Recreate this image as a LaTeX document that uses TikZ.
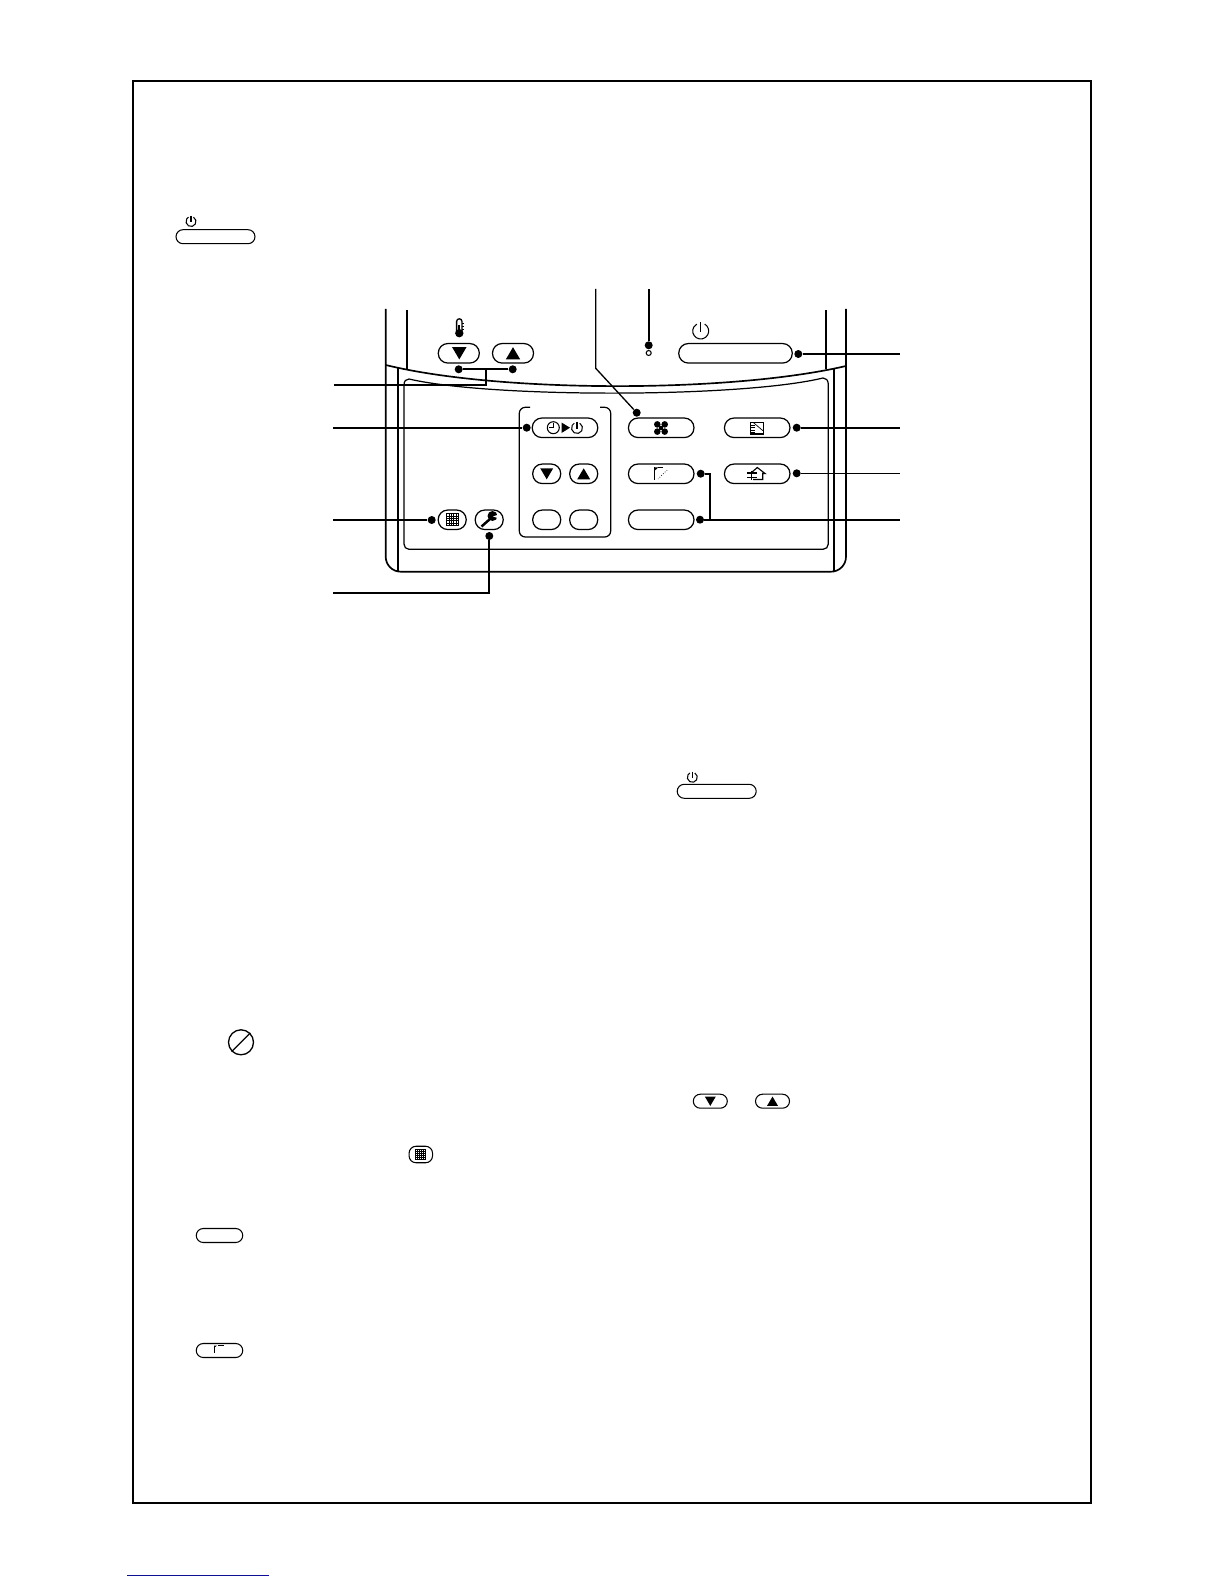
\documentclass[tikz,border=0pt]{standalone}
\usepackage{xcolor}
\usetikzlibrary{arrows}
\definecolor{linkblue}{RGB}{15,15,150}

\tikzset{
  caseline/.style={line width=0.95pt},
  leader/.style={line width=1.05pt},
  thinleader/.style={line width=0.75pt},
  btn/.style={draw, line width=0.7pt, inner sep=0pt, rounded corners=0.19cm, minimum height=0.39cm},
  wide/.style={btn, minimum width=1.31cm},
  short/.style={btn, minimum width=0.56cm},
  temp/.style={btn, minimum width=0.82cm},
  power/.style={btn, minimum width=2.27cm},
  tiny/.style={draw, line width=0.6pt, inner sep=0pt, rounded corners=0.14cm, minimum height=0.28cm},
  dot/.style={circle, fill=black, inner sep=0pt, minimum size=0.16cm}
}

% icons, all at pixel coordinates
\newcommand{\triDown}[3]{\fill (#1-#3,#2-#3*0.85) -- (#1+#3,#2-#3*0.85) -- (#1,#2+#3*0.85) -- cycle;}
\newcommand{\triUp}[3]{\fill (#1-#3,#2+#3*0.85) -- (#1+#3,#2+#3*0.85) -- (#1,#2-#3*0.85) -- cycle;}
\newcommand{\powerSign}[3]{%
  \draw[line width=0.6pt] (#1,#2) ++(-60:#3) arc[start angle=-60, end angle=240, radius=#3];
  \draw[line width=0.6pt] (#1,#2-#3*1.15) -- (#1,#2+#3*0.1);}
\newcommand{\gridSign}[3]{%
  \foreach \k in {-0.6,-0.2,0.2,0.6} {
    \draw[line width=0.25pt] (#1+#3*\k,#2-#3) -- (#1+#3*\k,#2+#3);
    \draw[line width=0.25pt] (#1-#3,#2+#3*\k) -- (#1+#3,#2+#3*\k);
  }
  \draw[line width=0.5pt] (#1-#3,#2-#3) rectangle (#1+#3,#2+#3);}

\begin{document}
\begin{tikzpicture}[x=0.02cm, y=-0.02cm]
  \useasboundingbox (0,0) rectangle (1224,1584);

  % page frame and link line
  \draw[line width=1.35pt] (133.3,81) rectangle (1091,1502.7);
  \draw[line width=0.8pt, color=linkblue] (127.3,1575.3) -- (269,1575.3);

  % small button in the first paragraph
  \node[tiny, minimum width=1.58cm] (btnPowerTop) at (215.5,236.7) {};
  \powerSign{191}{221.5}{5}

  % remote control case
  \draw[caseline, rounded corners=0.3cm] (385.7,309) -- (385.7,571.7) -- (846,571.7) -- (846,309);
  \draw[caseline] (406.7,310) -- (406.7,369);
  \draw[caseline] (397.7,367) -- (397.7,571.7);
  \draw[caseline] (825.7,310) -- (825.7,369);
  \draw[caseline] (834,368) -- (834,571.7);
  \draw[caseline] (385.7,365) .. controls (500,393) and (730,393) .. (846,366);

  % panel under the lid
  \draw[line width=0.7pt] (404,385) .. controls (404,381) and (406,379) .. (409,379)
    .. controls (490,398) and (740,398) .. (823,378)
    .. controls (826,378) and (828,380) .. (828.3,384)
    -- (828.3,544) .. controls (828.3,547) and (826,549.3) .. (823,549.3)
    -- (409,549.3) .. controls (406,549.3) and (404,547) .. (404,544) -- cycle;

  % timer group, open at the top
  \draw[line width=0.7pt, rounded corners=0.12cm] (530,407.3) -- (519.3,407.3) -- (519.3,537) -- (610.7,537) -- (610.7,407.3) -- (600,407.3);

  % buttons
  \node[temp] (btnTempDown) at (458.8,353.3) {};
  \node[temp] (btnTempUp) at (513,353.3) {};
  \node[power] (btnPower) at (735.5,353.3) {};
  \node[wide] (btnTimer) at (565,427.8) {};
  \node[short] (btnTimerDown) at (546.7,473.8) {};
  \node[short] (btnTimerUp) at (583.7,473.8) {};
  \node[short] (btnBlankA) at (546.7,519.8) {};
  \node[short] (btnBlankB) at (583.7,519.8) {};
  \node[short] (btnGrid) at (452.2,519.8) {};
  \node[short] (btnWrench) at (489.2,519.8) {};
  \node[wide] (btnFan) at (661.2,427.8) {};
  \node[wide] (btnFilter) at (757.2,427.8) {};
  \node[wide] (btnLouver) at (661.2,473.8) {};
  \node[wide] (btnHouse) at (757.2,473.8) {};
  \node[wide] (btnBlank) at (661.2,519.8) {};

  % icons on the buttons
  \triDown{459.3}{353.3}{7.2}
  \triUp{513}{353.3}{7.2}
  \triDown{546.7}{473.8}{6.5}
  \triUp{583.7}{473.8}{6.5}
  \powerSign{700.7}{331}{8}
  \powerSign{577}{428}{5.5}
  \draw[line width=0.6pt] (553.3,427.7) circle (6);
  \draw[line width=0.6pt] (553.3,423) -- (553.3,427.7) -- (549,427.7);
  \fill (561.5,422.5) -- (570,427.7) -- (561.5,433) -- cycle;
  \gridSign{452.4}{519.5}{6}

  % thermometer
  \draw[line width=0.75pt] (456.6,332) -- (456.6,321.5) arc[start angle=180, end angle=360, radius=2.7] -- (462,332);
  \fill (459.3,333.2) circle (4.2);
  \fill (458.2,325) rectangle (460.3,332);
  \foreach \yy in {323,326,329} {
    \draw[line width=0.3pt] (462,\yy) -- (463.8,\yy);
  }

  % wrench
  \draw[line width=1.4pt] (481.5,526.5) -- (490,519);
  \fill (492.5,516) circle (5);
  \fill[white] (493,516.5) -- (499,514.4) -- (499,518.5) -- cycle;

  % fan
  \foreach \sx in {-1,1} {
    \foreach \sy in {-1,1} {
      \fill (661+\sx*3.7,428+\sy*3.6) circle (3.3);
    }
  }
  \fill (659,426) rectangle (663,430);

  % filter
  \draw[line width=0.6pt] (750.7,422.3) rectangle (763.3,434);
  \draw[line width=0.4pt] (753,422.3) -- (763.3,431);
  \foreach \yy in {425,427.5,430,432.5} {
    \draw[line width=0.4pt] (750.7,\yy) -- (754.5,\yy);
  }

  % house
  \draw[line width=0.65pt] (751,473) -- (757.3,467.5) -- (765,473.5) -- (762.8,473.5) -- (762.8,479.5) -- (753,479.5);
  \draw[line width=0.7pt] (747.3,472.9) -- (756.7,472.9);
  \draw[line width=0.7pt] (747.3,477.2) -- (756.7,477.2);
  \draw[line width=0.7pt] (751.7,471) -- (751.7,480);

  % louver
  \fill (654.3,467.3) -- (658.5,467.3) -- (654.3,471) -- cycle;
  \draw[line width=0.5pt] (654.5,467.3) -- (654.5,480);
  \draw[line width=0.4pt, dashed] (658,467.5) -- (668.3,467.5);
  \draw[line width=0.4pt, densely dotted] (667,470) -- (658,479);

  % dots at the buttons
  \node[dot] (dotTempDown) at (458.7,369.3) {};
  \node[dot] (dotTempUp) at (512.7,369.3) {};
  \node[dot] (dotTimer) at (526.7,427.7) {};
  \node[dot] (dotGrid) at (431.7,520) {};
  \node[dot] (dotWrench) at (489.3,536) {};
  \node[dot] (dotFan) at (636.7,412.7) {};
  \node[dot] (dotLamp) at (648.7,345.3) {};
  \node[dot] (dotPower) at (798.3,354) {};
  \node[dot] (dotFilter) at (796.7,427.7) {};
  \node[dot] (dotHouse) at (796.7,473.3) {};
  \node[dot] (dotLouver) at (700.7,473.7) {};
  \node[dot] (dotBlank) at (700,519.7) {};
  \draw[line width=0.6pt] (648.7,353) circle (2.5);

  % free ends of the leaders
  \coordinate (endTemp) at (334,384.7);
  \coordinate (endTimer) at (333,427.7);
  \coordinate (endGrid) at (333,520);
  \coordinate (endWrench) at (333,592.7);
  \coordinate (endFan) at (595.7,289);
  \coordinate (kneeFan) at (595.7,368.3);
  \coordinate (endLamp) at (648.7,289);
  \coordinate (endPower) at (900,354);
  \coordinate (endFilter) at (900,427.7);
  \coordinate (endHouse) at (900,473.3);
  \coordinate (endBlank) at (900,519.7);
  \coordinate (jointTemp) at (486,369.3);
  \coordinate (jointBlank) at (710,519.7);

  % leaders
  \draw[leader] (dotTempDown) -- (dotTempUp);
  \draw[leader] (jointTemp) |- (endTemp);
  \draw[leader] (dotTimer) -- (endTimer);
  \draw[leader] (dotGrid) -- (endGrid);
  \draw[leader] (dotWrench) |- (endWrench);
  \draw[thinleader] (endFan) -- (kneeFan) -- (dotFan);
  \draw[leader] (endLamp) -- (dotLamp);
  \draw[leader] (dotPower) -- (endPower);
  \draw[leader] (dotFilter) -- (endFilter);
  \draw[thinleader] (dotHouse) -- (endHouse);
  \draw[leader] (dotBlank) -- (endBlank);
  \draw[leader] (dotLouver) -| (jointBlank);

  % symbols in the text below
  \node[tiny, minimum width=1.58cm] (btnPowerMid) at (716.7,791.3) {};
  \powerSign{692.3}{777.3}{5}

  \node[draw, circle, line width=0.75pt, inner sep=0pt, minimum size=0.5cm] (noSign) at (241,1042.3) {};
  \draw[line width=0.75pt] (noSign.south west) -- (noSign.north east);

  \node[tiny, minimum width=0.68cm] (btnDownText) at (710.3,1101.2) {};
  \node[tiny, minimum width=0.68cm] (btnUpText) at (772.5,1101.2) {};
  \triDown{710.3}{1101.2}{5.5}
  \triUp{772.5}{1101.2}{5.5}

  \node[tiny, minimum width=0.47cm, minimum height=0.33cm] (btnGridText) at (420.8,1154.5) {};
  \gridSign{420.7}{1154.3}{5}

  \node[tiny, minimum width=0.93cm] (btnBlankText) at (219.5,1235.5) {};

  \node[tiny, minimum width=0.93cm] (btnLouverText) at (219.5,1350.5) {};
  \fill (214,1345.5) -- (217,1345.5) -- (214,1348) -- cycle;
  \draw[line width=0.4pt] (214.2,1345.5) -- (214.2,1353);
  \draw[line width=0.4pt] (218,1345.7) -- (224,1345.7);
\end{tikzpicture}
\end{document}
